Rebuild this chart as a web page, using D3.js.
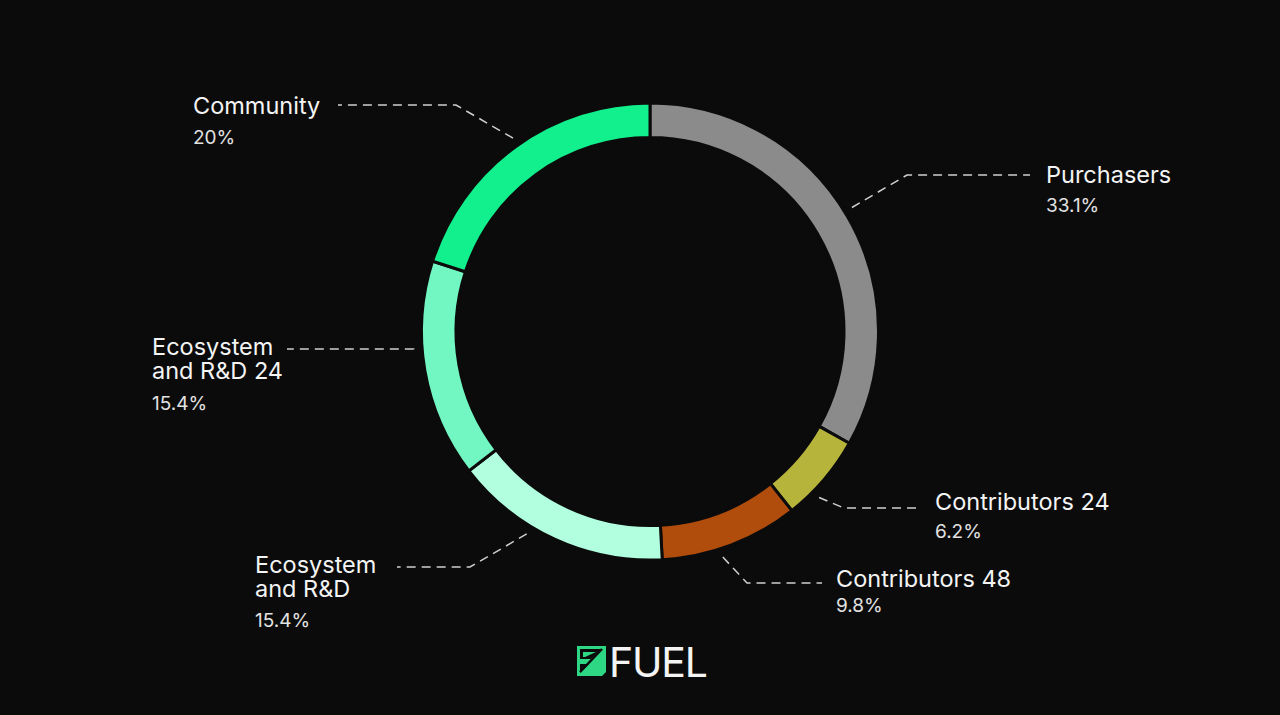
<!DOCTYPE html>
<html>
<head>
<meta charset="utf-8">
<script src="https://cdn.jsdelivr.net/npm/d3@7"></script>
<style>
  html, body { margin:0; padding:0; background:#0b0b0b; }
  svg { display:block; }
  .name { font-family: Inter, "Noto Sans", sans-serif; font-size:23.5px; fill:#f4f4f4; }
  .pct { font-family: Inter, "Noto Sans", sans-serif; font-size:19px; fill:#e2e2e2; }
  .leader { fill:none; stroke:#cfcfcf; stroke-width:1.5; stroke-dasharray:9,6; }
</style>
</head>
<body>
<svg id="chart"></svg>
<script>
// token allocation, clockwise from 12 o'clock
var categories = ["Purchasers", "Contributors 24", "Contributors 48",
                  "Ecosystem and R&D", "Ecosystem and R&D 24", "Community"]
var shares = [33.1, 6.2, 9.8, 15.4, 15.4, 20]
var pctLabels = ["33.1%", "6.2%", "9.8%", "15.4%", "15.4%", "20%"]
var colors = ["#8b8b8b", "#b7b43c", "#b04c0c", "#b2ffe0", "#72f6c2", "#12f08e"]

// label layout: text position, line breaks, where the dashed leader meets the ring
var labelLayout = [
    {tx:1046, ty:183, lines:["Purchasers"], pctY:212, at:0.49, elbowX:907, lineY:175, endX:1030},
    {tx:935, ty:510, lines:["Contributors 24"], pctY:538, at:0.68, elbowX:844, lineY:508, endX:922},
    {tx:836, ty:587, lines:["Contributors 48"], pctY:612, at:0.58, elbowX:747, lineY:583, endX:822},
    {tx:255, ty:573, lines:["Ecosystem","and R&D"], pctY:627, at:0.62, elbowX:470, lineY:567, endX:397},
    {tx:152, ty:355, lines:["Ecosystem","and R&D 24"], pctY:410, at:0.6, elbowX:null, lineY:349, endX:287},
    {tx:193, ty:114, lines:["Community"], pctY:144, at:0.51, elbowX:456, lineY:105, endX:338}
]

var screen = {width:1280, height:715}
var center = {x:650, y:331.5}
var radius = {outer:228.5, inner:194, leader:237}
var bg = "#0b0b0b"

var svg = d3.select("#chart")
    .attr("width", screen.width)
    .attr("height", screen.height)

svg.append("rect")
    .attr("width", screen.width)
    .attr("height", screen.height)
    .attr("fill", bg)

var slices = categories.map(function(c, i) { return {name:c, value:shares[i], pct:pctLabels[i], color:colors[i], layout:labelLayout[i]} })

var pie = d3.pie()
    .sort(null)
    .value(function(d) { return d.value })

var arcs = pie(slices)

var arc = d3.arc()
    .innerRadius(radius.inner)
    .outerRadius(radius.outer)

var ring = svg.append("g")
    .attr("transform", "translate(" + center.x + "," + center.y + ")")

ring.selectAll("path")
    .data(arcs)
    .enter()
    .append("path")
    .attr("d", arc)
    .attr("fill", function(d) { return d.data.color })
    .attr("stroke", bg)
    .attr("stroke-width", 3)

// leaders
var leaders = svg.append("g")
leaders.selectAll("path")
    .data(arcs)
    .enter()
    .append("path")
    .attr("class", "leader")
    .attr("d", function(d) {
        var L = d.data.layout
        var a = d.startAngle + (d.endAngle - d.startAngle) * L.at
        var sx = center.x + radius.leader * Math.sin(a)
        var sy = center.y - radius.leader * Math.cos(a)
        var ex = L.elbowX == null ? sx : L.elbowX
        return d3.line()([[sx, sy], [ex, L.lineY], [L.endX, L.lineY]])
    })

// labels
var labels = svg.append("g")
var entries = labels.selectAll("g")
    .data(arcs)
    .enter()
    .append("g")

entries.append("text")
    .attr("class", "name")
    .attr("x", function(d) { return d.data.layout.tx })
    .attr("y", function(d) { return d.data.layout.ty })
    .each(function(d) {
        var t = d3.select(this)
        d.data.layout.lines.forEach(function(line, i) {
            t.append("tspan")
             .attr("x", d.data.layout.tx)
             .attr("dy", i == 0 ? 0 : 24)
             .text(line)
        })
    })

entries.append("text")
    .attr("class", "pct")
    .attr("x", function(d) { return d.data.layout.tx })
    .attr("y", function(d) { return d.data.layout.pctY })
    .text(function(d) { return d.data.pct })

// FUEL logo
var logo = svg.append("g")
    .attr("transform", "translate(577,646)")

logo.append("path")
    .attr("d", "M0,0 H29 V26 L25,30 H0 Z")
    .attr("fill", "#2ed783")

logo.append("path")
    .attr("d", "M3,3 H25 L14,13 L3,13 Z")
    .attr("fill", bg)
logo.append("path")
    .attr("d", "M25,3 L3,26")
    .attr("stroke", bg)
    .attr("stroke-width", 2.5)
logo.append("path")
    .attr("d", "M3,18 H12 L3,27 Z")
    .attr("fill", bg)
logo.append("path")
    .attr("d", "M6,6 H19 L8,11 H6 Z")
    .attr("fill", "#2ed783")

logo.append("text")
    .text("FUEL")
    .attr("x", 32)
    .attr("y", 30.5)
    .attr("textLength", 99)
    .attr("font-family", "Inter, 'Noto Sans', sans-serif")
    .attr("font-size", 41)
    .attr("font-weight", 400)
    .attr("fill", "#f4f4f4")
</script>
</body>
</html>
